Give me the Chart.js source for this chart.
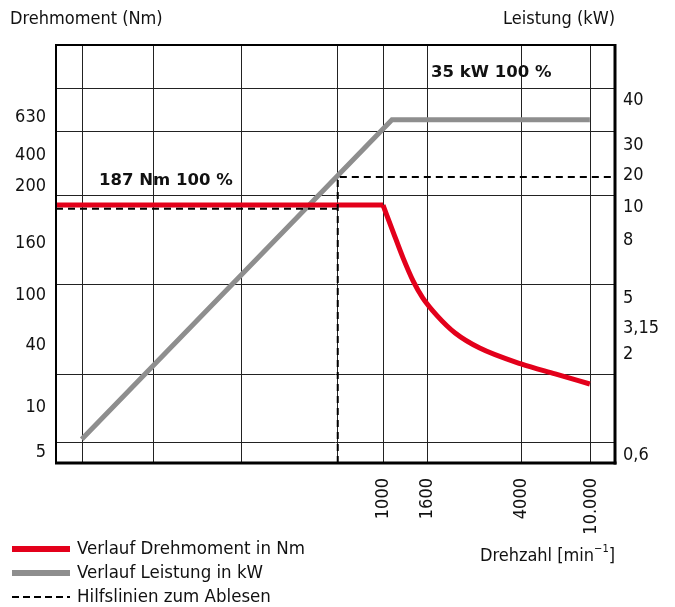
<!DOCTYPE html>
<html>
<head>
<meta charset="utf-8">
<script src="https://cdn.jsdelivr.net/npm/chart.js@4/dist/chart.umd.min.js"></script>
<style>
  html, body { margin: 0; padding: 0; background: #fff; }
  #wrap { width: 675px; height: 607px; position: relative; }
</style>
</head>
<body>
<div id="wrap"><canvas id="chart"></canvas></div>
<script>
// schematic chart: both axes run 0..100 (share of the plot), ticks are labels only
const xGrid = [4.7, 17.5, 33.1, 50.4, 58.5, 66.5, 83.2, 95.7];
const xTickLabels = ['', '', '', '', '1000', '1600', '4000', '10.000'];
const yGrid = [5.0, 21.1, 42.6, 64.1, 79.4, 89.7];
const torqueTickPos = [82.8, 73.7, 66.3, 52.6, 40.0, 28.2, 13.2, 2.6];
const torqueTickLabels = ['630', '400', '200', '160', '100', '40', '10', '5'];
const powerTickPos = [86.8, 76.1, 68.9, 61.2, 53.3, 39.5, 32.3, 26.1, 1.9];
const powerTickLabels = ['40', '30', '20', '10', '8', '5', '3,15', '2', '0,6'];

const torqueX = [0, 58.5, 60.3, 62.1, 63.9, 65.6, 68.2, 71.4, 75.8, 83.2, 89.3, 95.5];
const torqueY = [61.7, 61.7, 55.3, 49.0, 43.5, 39.5, 35.2, 31.1, 27.5, 23.7, 21.3, 18.9];
const powerX = [4.6, 60.1, 95.5];
const powerY = [5.7, 82.1, 82.1];
const guideX = [0, 50.4, 50.4, 50.4, 50.4, 100];
const guideY = [60.8, 60.8, null, 0, 68.4, 68.4];

const annotations = [
  { text: '187 Nm 100 %', x: 7.7, y: 67.5 },
  { text: '35 kW 100 %', x: 67.1, y: 93.3 }
];

const RED = '#e3001b';
const GRAY = '#8e8e8e';
const FONT = "'DejaVu Sans Condensed', 'DejaVu Sans', sans-serif";
const BOLD = "bold 16.5px 'DejaVu Sans', sans-serif";

const pts = (xs, ys) => xs.map((x, i) => ({ x, y: ys[i] }));
const torquePts = pts(torqueX, torqueY);

function fixedTicks(positions) {
  return scale => { scale.ticks = positions.map(v => ({ value: v })); };
}
function labelFor(positions, labels) {
  return value => {
    const i = positions.indexOf(value);
    return i >= 0 ? labels[i] : '';
  };
}

const frameAndText = {
  id: 'frameAndText',
  afterDatasetsDraw(chart) {
    const { ctx, chartArea: a, scales } = chart;
    ctx.save();
    ctx.strokeStyle = '#000';
    const line = (w, x1, y1, x2, y2) => {
      ctx.lineWidth = w;
      ctx.beginPath(); ctx.moveTo(x1, y1); ctx.lineTo(x2, y2); ctx.stroke();
    };
    line(2, a.left, a.top - 1, a.left, a.bottom);
    line(2, a.left - 1, a.top, a.right, a.top);
    line(3, a.right, a.top - 1, a.right, a.bottom + 1.5);
    line(3, a.left - 1, a.bottom, a.right + 1.5, a.bottom);

    ctx.fillStyle = '#111';
    ctx.font = BOLD;
    ctx.textBaseline = 'middle';
    ctx.textAlign = 'left';
    annotations.forEach(n => {
      ctx.fillText(n.text, scales.x.getPixelForValue(n.x), scales.y.getPixelForValue(n.y));
    });

    ctx.font = '18px ' + FONT;
    ctx.fillText('Drehmoment (Nm)', 10, 19);
    ctx.textAlign = 'right';
    ctx.fillText('Leistung (kW)', a.right, 19);

    // x axis title with superscript
    const base = 'Drehzahl [min', sup = '\u22121', end = ']';
    ctx.textAlign = 'left';
    ctx.font = '18px ' + FONT;
    const wEnd = ctx.measureText(end).width;
    const wBase = ctx.measureText(base).width;
    ctx.font = '11px ' + FONT;
    const wSup = ctx.measureText(sup).width;
    let x = a.right - wEnd - wSup - wBase;
    ctx.font = '18px ' + FONT;
    ctx.fillText(base, x, 556);
    ctx.font = '11px ' + FONT;
    ctx.fillText(sup, x + wBase, 549);
    ctx.font = '18px ' + FONT;
    ctx.fillText(end, x + wBase + wSup, 556);

    // legend
    const ds = chart.data.datasets;
    const items = [
      { label: ds[0].label, color: ds[0].borderColor, width: 6, dash: [] },
      { label: ds[2].label, color: ds[2].borderColor, width: 6, dash: [] },
      { label: ds[3].label, color: '#000', width: 2, dash: [7, 4] }
    ];
    items.forEach((it, i) => {
      const y = 549 + i * 24;
      ctx.strokeStyle = it.color;
      ctx.lineWidth = it.width;
      ctx.setLineDash(it.dash);
      ctx.beginPath(); ctx.moveTo(12, y); ctx.lineTo(70, y); ctx.stroke();
      ctx.setLineDash([]);
      ctx.fillStyle = '#111';
      ctx.font = '18.5px ' + FONT;
      ctx.textAlign = 'left';
      ctx.fillText(it.label, 77, y);
    });
    ctx.restore();
  }
};

new Chart(document.getElementById('chart'), {
  type: 'line',
  data: {
    datasets: [
      { label: 'Verlauf Drehmoment in Nm', data: torquePts.slice(0, 2), borderColor: RED, borderWidth: 5, pointRadius: 0, yAxisID: 'y', order: 1 },
      { label: 'Drehmoment Kurve', data: torquePts.slice(1), borderColor: RED, borderWidth: 5, pointRadius: 0, cubicInterpolationMode: 'monotone', yAxisID: 'y', order: 1 },
      { label: 'Verlauf Leistung in kW', data: pts(powerX, powerY), borderColor: GRAY, borderWidth: 5, pointRadius: 0, yAxisID: 'y', order: 2 },
      { label: 'Hilfslinien zum Ablesen', data: pts(guideX, guideY), borderColor: '#000', borderWidth: 2, borderDash: [7, 5], pointRadius: 0, spanGaps: false, yAxisID: 'y', order: 0 }
    ]
  },
  options: {
    responsive: true,
    maintainAspectRatio: false,
    animation: false,
    layout: { padding: { top: 45, left: 0, right: 0, bottom: 0 } },
    plugins: { legend: { display: false }, tooltip: { enabled: false } },
    scales: {
      x: {
        type: 'linear', min: 0, max: 100,
        afterBuildTicks: fixedTicks(xGrid),
        afterFit: s => { s.height = 144; },
        border: { display: false },
        grid: { color: '#222', lineWidth: 1, drawTicks: false },
        ticks: {
          autoSkip: false, minRotation: 90, maxRotation: 90, padding: 15,
          color: '#111', font: { family: FONT, size: 18 },
          callback: labelFor(xGrid, xTickLabels)
        }
      },
      y: {
        type: 'linear', position: 'left', min: 0, max: 100,
        afterBuildTicks: s => { s.ticks = yGrid.concat(torqueTickPos).map(v => ({ value: v })); },
        afterFit: s => { s.width = 56; },
        border: { display: false },
        grid: {
          drawTicks: false, lineWidth: 1,
          color: c => (yGrid.includes(c.tick.value) ? '#222' : 'rgba(0,0,0,0)')
        },
        ticks: {
          autoSkip: false, padding: 10, color: '#111', font: { family: FONT, size: 18 },
          callback: labelFor(torqueTickPos, torqueTickLabels)
        }
      },
      y2: {
        type: 'linear', position: 'right', min: 0, max: 100,
        afterBuildTicks: fixedTicks(powerTickPos),
        afterFit: s => { s.width = 60; },
        border: { display: false },
        grid: { display: false, drawTicks: false },
        ticks: {
          autoSkip: false, padding: 8, color: '#111', font: { family: FONT, size: 18 },
          callback: labelFor(powerTickPos, powerTickLabels)
        }
      }
    }
  },
  plugins: [frameAndText]
});
</script>
</body>
</html>
